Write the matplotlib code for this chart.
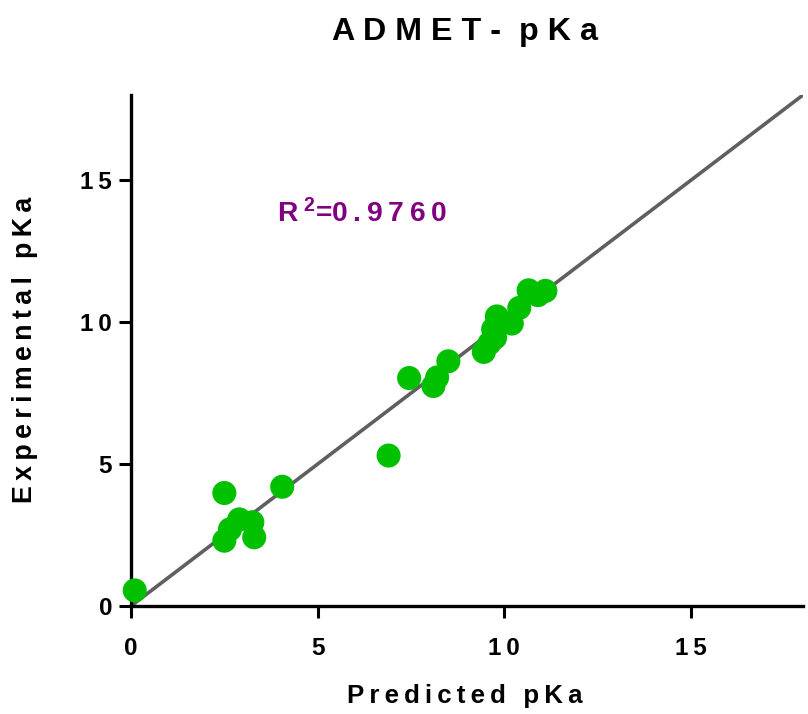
import matplotlib
matplotlib.use("Agg")
import matplotlib.pyplot as plt

# Predicted vs experimental pKa
predicted = [0.1, 2.5, 2.5, 2.65, 2.9, 3.25, 3.3, 4.05, 6.9, 7.45, 8.1, 8.2, 8.5,
             9.45, 9.6, 9.75, 9.7, 9.8, 10.2, 10.4, 10.65, 10.9, 11.1]
experimental = [0.55, 3.98, 2.3, 2.7, 3.05, 2.95, 2.42, 4.2, 5.3, 8.03, 7.75, 8.05, 8.62,
                8.95, 9.25, 9.45, 9.75, 10.2, 9.95, 10.5, 11.12, 10.95, 11.1]
ticks = [0, 5, 10, 15]
r2_text = "0.9760"

plt.rcParams['font.family'] = ['Liberation Sans', 'DejaVu Sans']
plt.rcParams['font.weight'] = 'bold'
plt.rcParams['mathtext.fontset'] = 'custom'
plt.rcParams['mathtext.rm'] = 'Liberation Sans:bold'
plt.rcParams['mathtext.it'] = 'Liberation Sans:bold'
plt.rcParams['mathtext.bf'] = 'Liberation Sans:bold'

THIN = "\u2009"


def spaced(s, sep=THIN, word=THIN + " " + THIN):
    # mimic Prism's wide letter tracking
    return word.join(sep.join(w) for w in s.split(" "))


fig = plt.figure(figsize=(8.08, 7.14), dpi=100)
ax = fig.add_axes([131 / 808, 1 - 606 / 714, 672 / 808, 511 / 714])

# identity line and points
ax.plot([0, 18], [0, 18], color='#5f5f5f', lw=2.6, zorder=2, solid_capstyle='butt')
ax.scatter(predicted, experimental, s=300, color='#00c000', edgecolors='none',
           zorder=3, clip_on=False)

ax.set_xlim(0, 18)
ax.set_ylim(0, 18)
ax.set_xticks(ticks)
ax.set_yticks(ticks)
ax.set_xticklabels([spaced(str(t)) for t in ticks])
ax.set_yticklabels([spaced(str(t)) for t in ticks])

for side in ['top', 'right']:
    ax.spines[side].set_visible(False)
for side in ['left', 'bottom']:
    ax.spines[side].set_linewidth(2.4)
ax.tick_params(axis='both', direction='out', length=8.6, width=2.2, labelsize=17.5)
ax.tick_params(axis='x', pad=14)
ax.tick_params(axis='y', pad=5)

ax.text(3.92, 13.5, "R" + THIN + "$^{2}$=" + spaced(r2_text), color='#800080',
        fontsize=20.3, fontweight='bold', va='baseline')

fig.text(465 / 808, 1 - 40 / 714, spaced("ADMET- pKa", " ", "  "), ha='center',
         va='baseline', fontsize=23.2, fontweight='bold')
fig.text(465 / 808, 1 - 703 / 714, spaced("Predicted pKa"), ha='center', va='baseline',
         fontsize=18.6, fontweight='bold')
fig.text(25 / 808, 1 - 350 / 714, spaced("Experimental pKa"), ha='center',
         va='center', rotation=90, fontsize=19.3, fontweight='bold')

fig.savefig("out.png", dpi=100)
